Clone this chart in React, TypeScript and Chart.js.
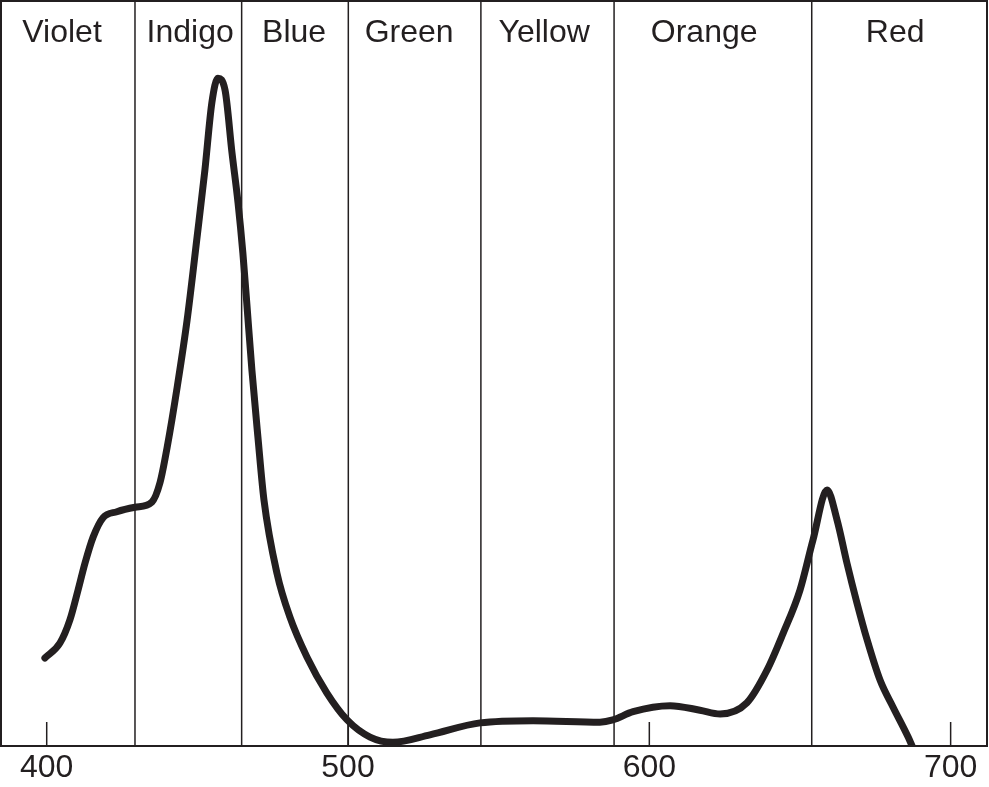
import React, { useEffect, useRef } from "react";
import { Chart, registerables } from "chart.js";

Chart.register(...registerables);

// Wavelength (nm) and relative absorbance
const wavelengths = [
  399.4, 404.4, 407.7, 410.4, 412.7, 415.4, 418.7, 423.3, 429.3, 434.9,
  437.6, 440.0, 443.3, 446.6, 449.9, 452.5, 454.8, 456.8, 459.2, 461.5,
  463.5, 465.1, 466.4, 468.1, 470.1, 472.1, 476.4, 480.7, 486.4, 493.0,
  499.7, 507.3, 514.9, 527.2, 543.8, 561.4, 583.6, 587.9, 594.6, 606.9,
  616.8, 623.5, 632.4, 639.1, 644.4, 650.0, 654.3, 659.0, 662.3, 665.6,
  668.9, 672.3, 676.6, 680.9, 685.9, 687.2,
];
const absorbance = [
  11.8, 13.8, 16.9, 20.9, 24.5, 28.0, 30.6, 31.4, 32.0, 32.7,
  35.3, 40.1, 48.1, 57.1, 68.2, 77.2, 86.2, 89.5, 87.9, 79.5,
  72.8, 66.1, 59.4, 50.4, 41.4, 33.0, 23.2, 17.3, 11.9, 7.1,
  3.5, 1.2, 0.5, 1.5, 3.1, 3.4, 3.2, 3.5, 4.6, 5.4,
  4.8, 4.3, 5.8, 10.2, 15.1, 20.9, 27.6, 34.3, 30.3, 24.5,
  19.2, 14.2, 8.8, 5.2, 1.2, 0.0,
];

// Colour bands
const bandNames = ["Violet", "Indigo", "Blue", "Green", "Yellow", "Orange", "Red"];
const bandLabelCenters = [405.1, 447.6, 482.1, 520.3, 565.1, 618.2, 681.6];
const bandBoundaries = [429.3, 464.7, 500.1, 544.1, 588.3, 653.9];

const tickValues = [400, 500, 600, 700];
const xMin = 384.5;
const xMax = 712.4;

const INK = "#231f20";
const FONT = "'Liberation Sans', Arial, Helvetica, sans-serif";

const decorPlugin = {
  id: "decor",
  beforeDatasetsDraw(chart: any) {
    const { ctx, chartArea, scales } = chart;
    const x = scales.x;
    ctx.save();
    ctx.strokeStyle = INK;
    // band boundaries
    ctx.lineWidth = 1.5;
    bandBoundaries.forEach((b) => {
      const px = x.getPixelForValue(b);
      ctx.beginPath();
      ctx.moveTo(px, chartArea.top);
      ctx.lineTo(px, chartArea.bottom);
      ctx.stroke();
    });
    // inward tick marks
    tickValues.forEach((t) => {
      const px = x.getPixelForValue(t);
      ctx.beginPath();
      ctx.moveTo(px, chartArea.bottom);
      ctx.lineTo(px, chartArea.bottom - 24);
      ctx.stroke();
    });
    // frame
    ctx.lineWidth = 2;
    ctx.strokeRect(
      chartArea.left + 1,
      chartArea.top + 1,
      chartArea.right - chartArea.left - 2,
      chartArea.bottom - chartArea.top - 1
    );
    // band names
    ctx.fillStyle = INK;
    ctx.font = `32px ${FONT}`;
    ctx.textAlign = "center";
    ctx.textBaseline = "alphabetic";
    bandNames.forEach((name, i) => {
      ctx.fillText(name, x.getPixelForValue(bandLabelCenters[i]), chartArea.top + 42);
    });
    ctx.restore();
  },
};

export default function App() {
  const canvasRef = useRef<HTMLCanvasElement | null>(null);

  useEffect(() => {
    const canvas = canvasRef.current;
    if (!canvas) return;
    const chart = new Chart(canvas, {
      type: "line",
      data: {
        datasets: [
          {
            data: wavelengths.map((w, i) => ({ x: w, y: absorbance[i] })),
            borderColor: INK,
            borderWidth: 7,
            pointRadius: 0,
            fill: false,
            cubicInterpolationMode: "monotone",
            borderCapStyle: "round",
            borderJoinStyle: "round",
          } as any,
        ],
      },
      options: {
        responsive: false,
        animation: false,
        layout: { padding: { left: 0, right: 1, top: 0, bottom: 0 } },
        plugins: {
          legend: { display: false },
          tooltip: { enabled: false },
        },
        scales: {
          x: {
            type: "linear",
            min: xMin,
            max: xMax,
            afterBuildTicks: (scale: any) => {
              scale.ticks = tickValues.map((v) => ({ value: v }));
            },
            afterFit: (scale: any) => {
              scale.height = 41;
            },
            grid: { display: false, drawTicks: false },
            border: { display: false },
            ticks: {
              color: INK,
              padding: 3,
              maxRotation: 0,
              autoSkip: false,
              font: { family: FONT, size: 32 },
              callback: (v: any) => String(v),
            },
          },
          y: {
            display: false,
            min: 0,
            max: 100,
          },
        },
      } as any,
      plugins: [decorPlugin],
    });
    return () => chart.destroy();
  }, []);

  return (
    <div style={{ position: "fixed", left: 0, top: 0, width: 989, height: 787, background: "#fff" }}>
      <canvas ref={canvasRef} width={989} height={787} />
    </div>
  );
}
